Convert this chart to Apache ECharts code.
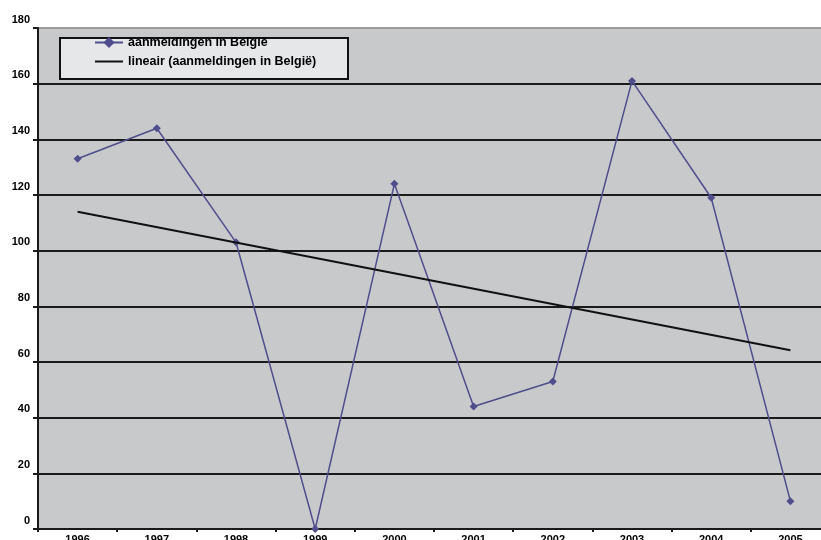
<!DOCTYPE html>
<html>
<head>
<meta charset="utf-8">
<script src="https://cdn.jsdelivr.net/npm/echarts@6/dist/echarts.min.js"></script>
<style>
html,body{margin:0;padding:0;background:#fff;}
#c{width:821px;height:540px;}
</style>
</head>
<body>
<div id="c"></div>
<script>
var categories = ['1996','1997','1998','1999','2000','2001','2002','2003','2004','2005'];
var aanmeldingen = [133, 144, 103, 0, 124, 44, 53, 161, 119, 10];
var trendEnds = [114.0, 64.2];
var yTicks = [0, 20, 40, 60, 80, 100, 120, 140, 160, 180];

var seriesName = 'aanmeldingen in België';
var trendName = 'lineair (aanmeldingen in België)';

var chart = echarts.init(document.getElementById('c'), null, {renderer: 'canvas'});

var splitColors = yTicks.map(function (v, i) { return i === yTicks.length - 1 ? '#9a9a9a' : '#1a1a1a'; });

chart.setOption({
  animation: false,
  backgroundColor: '#ffffff',
  grid: {
    left: 38, right: -9, top: 28, bottom: 11,
    outerBoundsMode: 'none',
    containLabel: false,
    show: true, backgroundColor: '#c8c9cb', borderWidth: 0
  },
  graphic: [{
    type: 'rect',
    shape: {x: 60, y: 38, width: 288, height: 41},
    style: {fill: '#e6e7e9', stroke: '#111', lineWidth: 2},
    z: 5
  }],
  legend: {
    orient: 'vertical',
    left: 94, top: 36,
    itemWidth: 28, itemHeight: 14, itemGap: 6,
    padding: 0,
    z: 10,
    textStyle: {fontFamily: 'Liberation Sans', fontWeight: 'bold', fontSize: 12.5, color: '#000'},
    data: [
      {name: seriesName},
      {name: trendName, itemStyle: {color: 'rgba(0,0,0,0)', borderWidth: 0, opacity: 0}}
    ]
  },
  xAxis: {
    type: 'category',
    data: categories,
    boundaryGap: true,
    axisLine: {show: true, lineStyle: {color: '#1a1a1a', width: 2}},
    axisTick: {show: true, length: 3, lineStyle: {color: '#1a1a1a', width: 2}},
    axisLabel: {margin: 5, fontFamily: 'Liberation Sans', fontWeight: 'bold', fontSize: 11, color: '#000'},
    splitLine: {show: false}
  },
  yAxis: {
    type: 'value',
    min: 0, max: 180, interval: 20,
    axisLine: {show: true, lineStyle: {color: '#1a1a1a', width: 2}},
    axisTick: {show: true, length: 5, lineStyle: {color: '#1a1a1a', width: 2}},
    axisLabel: {
      margin: 8, fontFamily: 'Liberation Sans', fontWeight: 'bold', fontSize: 11, color: '#000',
      verticalAlign: 'bottom', padding: [0, 0, 3, 0]
    },
    splitLine: {show: true, lineStyle: {color: splitColors, width: 2}}
  },
  series: [{
    name: seriesName,
    type: 'line',
    data: aanmeldingen,
    symbol: 'diamond',
    symbolSize: 8,
    showAllSymbol: true,
    lineStyle: {color: '#4f4d8c', width: 1.5},
    itemStyle: {color: '#4f4d8c'},
    z: 3
  }, {
    name: trendName,
    type: 'line',
    data: [[categories[0], trendEnds[0]], [categories[categories.length - 1], trendEnds[1]]],
    symbol: 'none',
    lineStyle: {color: '#111', width: 2},
    itemStyle: {color: '#111'},
    z: 4
  }]
});
</script>
</body>
</html>
